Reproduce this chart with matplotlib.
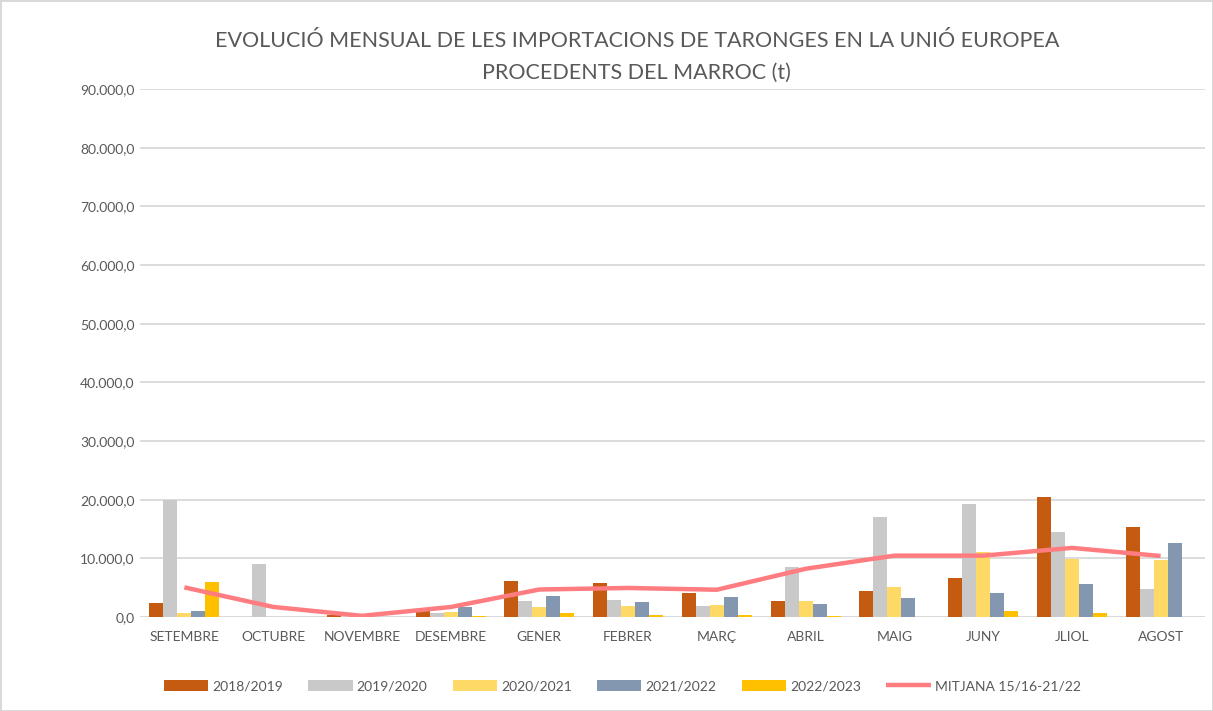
import matplotlib.pyplot as plt
import numpy as np
from matplotlib.ticker import FuncFormatter

plt.rcParams['font.family'] = ['Lato', 'DejaVu Sans']

# Dades
mesos = ['SETEMBRE', 'OCTUBRE', 'NOVEMBRE', 'DESEMBRE', 'GENER', 'FEBRER',
         'MARÇ', 'ABRIL', 'MAIG', 'JUNY', 'JLIOL', 'AGOST']

s2018 = [2460, 0, 300, 1000, 6090, 5860, 4020, 2760, 4370, 6670, 20460, 15340]
s2019 = [19900, 8960, 0, 700, 2760, 2930, 1840, 8500, 17000, 19250, 14430, 4830]
s2020 = [740, 0, 0, 900, 1720, 1840, 2070, 2760, 5110, 11030, 9950, 9770]
s2021 = [1030, 0, 0, 1720, 3560, 2640, 3450, 2180, 3220, 4020, 5570, 12590]
s2022 = [5900, 0, 0, 200, 740, 350, 350, 170, 0, 980, 630, 0]
mitjana = [5050, 1720, 200, 1700, 4690, 4950, 4650, 8220, 10460, 10460, 11780, 10400]

series = [
    ('2018/2019', s2018, '#C55A11'),
    ('2019/2020', s2019, '#C9C9C9'),
    ('2020/2021', s2020, '#FFD966'),
    ('2021/2022', s2021, '#8497B0'),
    ('2022/2023', s2022, '#FFC000'),
]

fig = plt.figure(figsize=(12.13, 7.11), dpi=100)
fig.patch.set_edgecolor('#D9D9D9')
fig.patch.set_linewidth(2)
ax = fig.add_axes([0.1154, 0.1322, 0.878, 0.7426])

x = np.arange(len(mesos))
w = 0.158
handles = []
for i, (nom, vals, col) in enumerate(series):
    b = ax.bar(x + (i - 2) * w, vals, width=w, color=col, label=nom, zorder=2)
    handles.append(b)

ln, = ax.plot(x, mitjana, color='#FF7C80', linewidth=3.2, label='MITJANA 15/16-21/22',
              zorder=3, solid_capstyle='butt')
handles.append(ln)

ax.set_xlim(-0.5, len(mesos) - 0.5)
ax.set_ylim(0, 90000)
ax.set_yticks(np.arange(0, 90001, 10000))
ax.yaxis.set_major_formatter(FuncFormatter(lambda v, p: f'{v:,.1f}'.replace(',', 'X').replace('.', ',').replace('X', '.')))
ax.grid(axis='y', color='#D9D9D9', linewidth=1.3, zorder=0)
for s in ax.spines.values():
    s.set_visible(False)
ax.axhline(0, color='#D9D9D9', linewidth=1.3, zorder=1)
ax.tick_params(length=0, colors='#595959', labelsize=10)
ax.tick_params(axis='y', pad=4)
ax.tick_params(axis='x', pad=10)
ax.set_xticks(x)
ax.set_xticklabels(mesos)

fig.text(0.525, 0.943, 'EVOLUCIÓ MENSUAL DE LES IMPORTACIONS DE TARONGES EN LA UNIÓ EUROPEA',
         ha='center', va='center', fontsize=15.5, color='#595959')
fig.text(0.525, 0.898, 'PROCEDENTS DEL MARROC (t)',
         ha='center', va='center', fontsize=15.5, color='#595959')

fig.legend(handles=handles, loc='center', bbox_to_anchor=(0.513, 0.035), ncol=6, frameon=False,
           fontsize=10, labelcolor='#595959', handlelength=3.2, handleheight=0.8,
           columnspacing=1.8, handletextpad=0.3)

fig.savefig('out.png', dpi=100)
